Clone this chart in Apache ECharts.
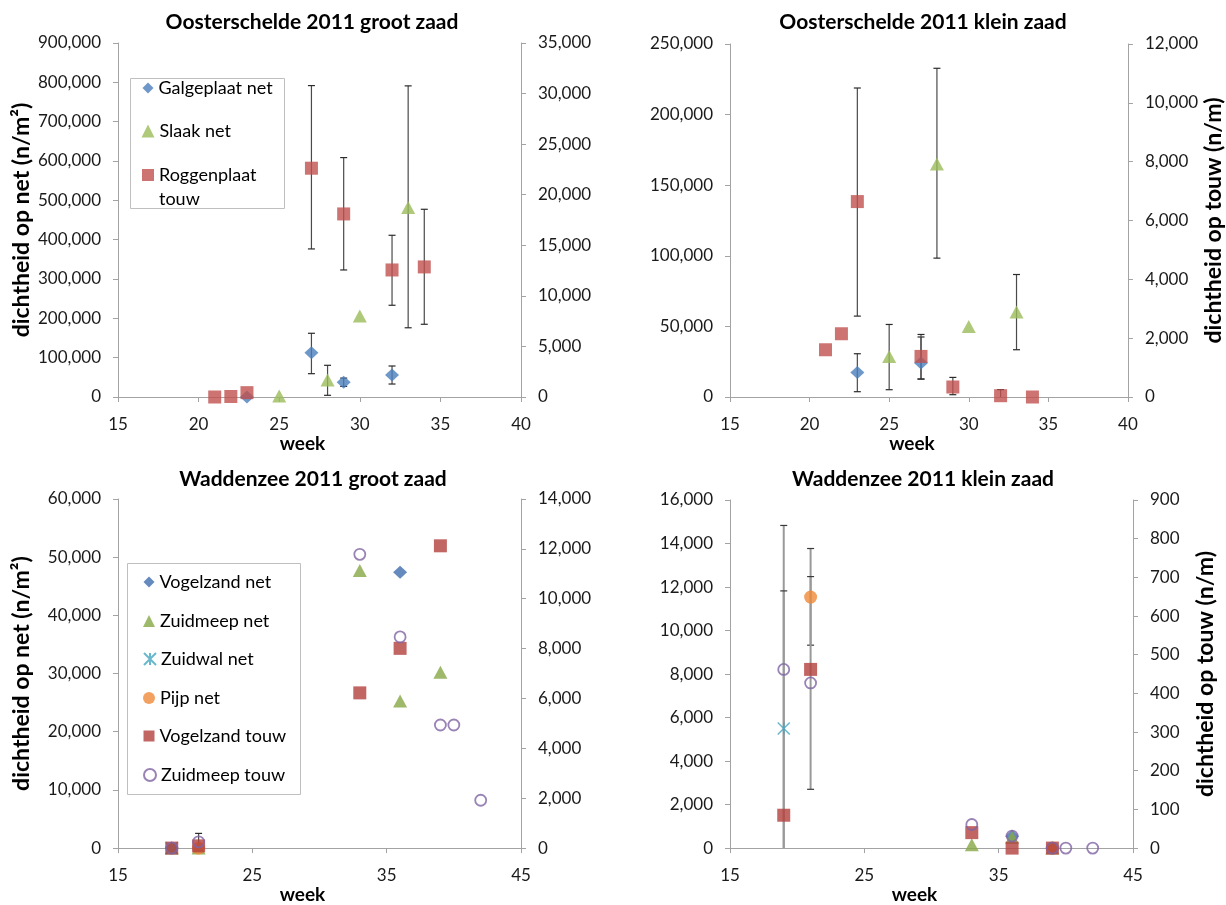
<!DOCTYPE html>
<html>
<head>
<meta charset="utf-8">
<title>Oosterschelde en Waddenzee 2011 – zaaddichtheid</title>
<script src="https://cdn.jsdelivr.net/npm/echarts@6/dist/echarts.min.js"></script>
<style>
  html, body { margin: 0; padding: 0; background: #fff; }
  #chart { width: 1226px; height: 905px; }
</style>
</head>
<body>
<div id="chart"></div>
<script>
// ---------- tick values ----------
const weekTicksOS = [15, 20, 25, 30, 35, 40];
const weekTicksWZ = [15, 25, 35, 45];
const ticksOsGrootNet = [0, 100000, 200000, 300000, 400000, 500000, 600000, 700000, 800000, 900000];
const ticksOsGrootTouw = [0, 5000, 10000, 15000, 20000, 25000, 30000, 35000];
const ticksOsKleinNet = [0, 50000, 100000, 150000, 200000, 250000];
const ticksOsKleinTouw = [0, 2000, 4000, 6000, 8000, 10000, 12000];
const ticksWzGrootNet = [0, 10000, 20000, 30000, 40000, 50000, 60000];
const ticksWzGrootTouw = [0, 2000, 4000, 6000, 8000, 10000, 12000, 14000];
const ticksWzKleinNet = [0, 2000, 4000, 6000, 8000, 10000, 12000, 14000, 16000];
const ticksWzKleinTouw = [0, 100, 200, 300, 400, 500, 600, 700, 800, 900];

// ---------- Oosterschelde 2011 groot zaad: [week, dichtheid] ----------
const osGrootGalgeplaatNet = [[23, 0], [27, 112600], [29, 37300], [32, 55900]];
const osGrootSlaakNet = [[25, 2500], [28, 43200], [30, 206000], [33, 482000]];
const osGrootRoggenplaatTouw = [[21, 0], [22, 50], [23, 430], [27, 22620], [29, 18100], [32, 12560], [34, 12860]];
// error bars: [week, laag, hoog]
const osGrootGalgeplaatNetErr = [[27, 59300, 162000], [29, 27000, 48000], [32, 33000, 78800]];
const osGrootSlaakNetErr = [[28, 4300, 80600], [33, 176000, 791000]];
const osGrootRoggenplaatTouwErr = [[27, 14640, 30790], [29, 12560, 23670], [32, 9070, 15990], [34, 7190, 18560]];

// ---------- Oosterschelde 2011 klein zaad ----------
const osKleinGalgeplaatNet = [[23, 17400], [27, 24000]];
const osKleinSlaakNet = [[25, 28700], [28, 165100], [30, 50000], [33, 60150]];
const osKleinRoggenplaatTouw = [[21, 1606], [22, 2150], [23, 6643], [27, 1380], [29, 340], [32, 44], [34, 0]];
const osKleinGalgeplaatNetErr = [[23, 3750, 30640], [27, 12700, 42500]];
const osKleinSlaakNetErr = [[25, 5170, 51370], [28, 98350, 232800], [33, 33470, 86750]];
const osKleinRoggenplaatTouwErr = [[23, 2750, 10504], [27, 611, 2126], [29, 78, 666], [32, 0, 250]];

// ---------- Waddenzee 2011 groot zaad ----------
const wzGrootVogelzandNet = [[19, 0], [36, 47400]];
const wzGrootZuidmeepNet = [[19, 0], [21, 0], [33, 47700], [36, 25280], [39, 30230]];
const wzGrootZuidwalNet = [[19, 0]];
const wzGrootPijpNet = [[21, 0]];
const wzGrootVogelzandTouw = [[19, 0], [21, 90], [33, 6225], [36, 8010], [39, 12123]];
const wzGrootZuidmeepTouw = [[19, 0], [21, 250], [33, 11780], [36, 8470], [39, 4937], [40, 4937], [42, 1918]];
const wzGrootZuidmeepTouwErr = [[21, 0, 590]];

// ---------- Waddenzee 2011 klein zaad ----------
const wzKleinVogelzandNet = [[36, 540], [39, 0]];
const wzKleinZuidmeepNet = [[33, 150], [36, 483], [39, 0]];
const wzKleinZuidwalNet = [[19, 5500]];
const wzKleinPijpNet = [[21, 11540], [39, 0]];
const wzKleinVogelzandTouw = [[19, 85], [21, 462], [33, 40], [36, 0], [39, 0]];
const wzKleinZuidmeepTouw = [[19, 462], [21, 427], [33, 61], [36, 31], [39, 0], [40, 0], [42, 0]];
const wzKleinZuidwalNetErr = [[19, 0, 14830]];
const wzKleinPijpNetErr = [[21, 9327, 13770]];
const wzKleinVogelzandTouwErr = [[19, 0, 665]];
const wzKleinZuidmeepTouwErr = [[21, 152, 702]];

// ---------- styling ----------
const FONT = 'Lato, "Open Sans", sans-serif';
const AXIS_COLOR = '#A3A3A3';
const TEXT_COLOR = '#1a1a1a';
const fmt = v => Number(v).toLocaleString('en-US');

const MARK = {
  galgeplaatNet: { symbol: 'diamond', symbolSize: [14, 13], itemStyle: { color: '#4A7EBB' } },
  slaakNet: { symbol: 'triangle', symbolSize: [14, 13], itemStyle: { color: '#9BBB59' } },
  roggenplaatTouw: { symbol: 'rect', symbolSize: 13, itemStyle: { color: '#C0504D' } },
  vogelzandNet: { symbol: 'diamond', symbolSize: [14, 13], itemStyle: { color: '#3F6DAE' } },
  zuidmeepNet: { symbol: 'triangle', symbolSize: [14, 13], itemStyle: { color: '#86A844' } },
  zuidwalNet: { symbol: 'path://M0,0L12,12M0,12L12,0M6,0L6,12', symbolSize: 12,
    itemStyle: { color: '#45A6C1', borderColor: '#45A6C1', borderWidth: 1.5 } },
  pijpNet: { symbol: 'circle', symbolSize: 13, itemStyle: { color: '#EF8A3A' } },
  vogelzandTouw: { symbol: 'rect', symbolSize: 13, itemStyle: { color: '#B3403D' } },
  zuidmeepTouw: { symbol: 'circle', symbolSize: 11, itemStyle: { color: 'rgba(0,0,0,0)', borderColor: '#8064A2', borderWidth: 1.8 } }
};

const ERR_DARK = { line: '#4a4a4a', lineWidth: 1.2, cap: '#2b2b2b', capWidth: 1.2 };
const ERR_GREY = { line: '#999999', lineWidth: 2, cap: '#3a3a3a', capWidth: 1.2 };

const grids = [
  { left: 118, top: 43, width: 403, height: 354 },
  { left: 730, top: 44, width: 403, height: 353 },
  { left: 118, top: 499, width: 403, height: 355 },
  { left: 730, top: 500, width: 403, height: 354 }
];

function xAxis(gridIndex, ticks, step) {
  return {
    type: 'value', gridIndex,
    min: ticks[0], max: ticks[ticks.length - 1], interval: step,
    name: 'week', nameLocation: 'middle', nameGap: 31,
    nameTextStyle: { fontFamily: FONT, fontWeight: 'bold', fontSize: 19, color: '#000', padding: [0, 34, 0, 0] },
    axisLine: { show: true, onZero: false, lineStyle: { color: AXIS_COLOR, width: 1 } },
    axisTick: { show: true, inside: false, length: 5, lineStyle: { color: AXIS_COLOR }, customValues: ticks },
    axisLabel: { margin: 19, fontFamily: FONT, fontSize: 17, color: TEXT_COLOR, customValues: ticks },
    splitLine: { show: false }
  };
}

function yAxis(gridIndex, position, ticks, name, nameGap) {
  return {
    type: 'value', gridIndex, position,
    min: ticks[0], max: ticks[ticks.length - 1], interval: ticks[1] - ticks[0],
    name: name || '', nameLocation: 'middle', nameGap: nameGap || 0, nameRotate: 90,
    nameTextStyle: { fontFamily: FONT, fontWeight: 'bold', fontSize: 23, color: '#000' },
    axisLine: { show: true, onZero: false, lineStyle: { color: AXIS_COLOR, width: 1 } },
    axisTick: { show: true, inside: false, length: 5, lineStyle: { color: AXIS_COLOR }, customValues: ticks },
    axisLabel: { margin: 17, fontFamily: FONT, fontSize: 17, color: TEXT_COLOR, formatter: fmt, customValues: ticks },
    splitLine: { show: false }
  };
}

function scatter(name, data, gridIndex, side, mark) {
  return Object.assign({
    type: 'scatter', name, data,
    xAxisIndex: gridIndex, yAxisIndex: gridIndex * 2 + (side === 'right' ? 1 : 0),
    z: 3, silent: true
  }, JSON.parse(JSON.stringify(mark)));
}

function errorBars(data, gridIndex, side, st) {
  return {
    type: 'custom', data, silent: true, z: 2,
    xAxisIndex: gridIndex, yAxisIndex: gridIndex * 2 + (side === 'right' ? 1 : 0),
    encode: { x: 0, y: [1, 2] },
    renderItem(params, api) {
      const w = api.value(0), lo = api.value(1), hi = api.value(2);
      const pHi = api.coord([w, hi]);
      const pLo = api.coord([w, lo]);
      const hw = 3.5;
      const children = [
        { type: 'line', shape: { x1: pHi[0], y1: pHi[1], x2: pLo[0], y2: pLo[1] },
          style: { stroke: st.line, lineWidth: st.lineWidth } },
        { type: 'line', shape: { x1: pHi[0] - hw, y1: pHi[1], x2: pHi[0] + hw, y2: pHi[1] },
          style: { stroke: st.cap, lineWidth: st.capWidth } }
      ];
      if (lo > 0) {
        children.push({ type: 'line', shape: { x1: pLo[0] - hw, y1: pLo[1], x2: pLo[0] + hw, y2: pLo[1] },
          style: { stroke: st.cap, lineWidth: st.capWidth } });
      }
      return { type: 'group', children };
    }
  };
}

// one legend block per entry, centred on its icon; a wrapped label keeps
// its first line level with the icon
function legendEntry(name, cx, cy, iw, ih, lines) {
  const lh = lines ? 24 : 22;
  const label = lines ? '\u00a0\n' + lines.join('\n') : name;
  return {
    data: [name], orient: 'vertical', selectedMode: false, padding: 0,
    left: cx - iw / 2, top: lines ? cy - 1.5 * lh : cy - lh / 2,
    itemWidth: iw, itemHeight: ih,
    formatter: () => label,
    textStyle: { fontFamily: FONT, fontSize: 18, color: '#000', lineHeight: lh }
  };
}

function title(text, cx, top) {
  return { text, left: cx, top, textAlign: 'center', padding: 0,
    textStyle: { fontFamily: FONT, fontWeight: 'bold', fontSize: 21, color: '#000' } };
}

const option = {
  animation: false,
  backgroundColor: '#fff',
  title: [
    title('Oosterschelde 2011 groot zaad', 312, 12),
    title('Oosterschelde 2011 klein zaad', 923, 12),
    title('Waddenzee 2011 groot zaad', 313, 469),
    title('Waddenzee 2011 klein zaad', 923, 469)
  ],
  grid: grids,
  xAxis: [
    xAxis(0, weekTicksOS, 5),
    xAxis(1, weekTicksOS, 5),
    xAxis(2, weekTicksWZ, 5),
    xAxis(3, weekTicksWZ, 5)
  ],
  yAxis: [
    yAxis(0, 'left', ticksOsGrootNet, 'dichtheid op net (n/m²)', 85),
    yAxis(0, 'right', ticksOsGrootTouw),
    yAxis(1, 'left', ticksOsKleinNet),
    yAxis(1, 'right', ticksOsKleinTouw, 'dichtheid op touw (n/m)', 61),
    yAxis(2, 'left', ticksWzGrootNet, 'dichtheid op net (n/m²)', 85),
    yAxis(2, 'right', ticksWzGrootTouw),
    yAxis(3, 'left', ticksWzKleinNet),
    yAxis(3, 'right', ticksWzKleinTouw, 'dichtheid op touw (n/m)', 61)
  ],
  legend: [
    legendEntry('Galgeplaat net', 148, 88, 11, 11),
    legendEntry('Slaak net', 148, 131, 13, 13),
    legendEntry('Roggenplaat touw', 148, 175, 12, 12, ['Roggenplaat', 'touw']),
    legendEntry('Vogelzand net', 149, 582, 11, 11),
    legendEntry('Zuidmeep net', 149, 621, 12, 12),
    legendEntry('Zuidwal net', 149, 659, 12, 12),
    legendEntry('Pijp net', 149, 698, 12, 12),
    legendEntry('Vogelzand touw', 149, 736, 11, 11),
    legendEntry('Zuidmeep touw', 149, 775, 12, 12)
  ],
  graphic: [
    { type: 'rect', shape: { x: 130.5, y: 78.5, width: 154, height: 130 },
      style: { fill: 'none', stroke: '#BFBFBF', lineWidth: 1 }, silent: true },
    { type: 'rect', shape: { x: 127.5, y: 563.5, width: 173, height: 231 },
      style: { fill: 'none', stroke: '#BFBFBF', lineWidth: 1 }, silent: true }
  ],
  series: [
    // Oosterschelde groot zaad
    errorBars(osGrootGalgeplaatNetErr, 0, 'left', ERR_DARK),
    errorBars(osGrootSlaakNetErr, 0, 'left', ERR_DARK),
    errorBars(osGrootRoggenplaatTouwErr, 0, 'right', ERR_DARK),
    scatter('Galgeplaat net', osGrootGalgeplaatNet, 0, 'left', MARK.galgeplaatNet),
    scatter('Slaak net', osGrootSlaakNet, 0, 'left', MARK.slaakNet),
    scatter('Roggenplaat touw', osGrootRoggenplaatTouw, 0, 'right', MARK.roggenplaatTouw),
    // Oosterschelde klein zaad
    errorBars(osKleinGalgeplaatNetErr, 1, 'left', ERR_DARK),
    errorBars(osKleinSlaakNetErr, 1, 'left', ERR_DARK),
    errorBars(osKleinRoggenplaatTouwErr, 1, 'right', ERR_DARK),
    scatter('Galgeplaat net', osKleinGalgeplaatNet, 1, 'left', MARK.galgeplaatNet),
    scatter('Slaak net', osKleinSlaakNet, 1, 'left', MARK.slaakNet),
    scatter('Roggenplaat touw', osKleinRoggenplaatTouw, 1, 'right', MARK.roggenplaatTouw),
    // Waddenzee groot zaad
    errorBars(wzGrootZuidmeepTouwErr, 2, 'right', ERR_DARK),
    scatter('Vogelzand net', wzGrootVogelzandNet, 2, 'left', MARK.vogelzandNet),
    scatter('Zuidmeep net', wzGrootZuidmeepNet, 2, 'left', MARK.zuidmeepNet),
    scatter('Zuidwal net', wzGrootZuidwalNet, 2, 'left', MARK.zuidwalNet),
    scatter('Pijp net', wzGrootPijpNet, 2, 'left', MARK.pijpNet),
    scatter('Vogelzand touw', wzGrootVogelzandTouw, 2, 'right', MARK.vogelzandTouw),
    scatter('Zuidmeep touw', wzGrootZuidmeepTouw, 2, 'right', MARK.zuidmeepTouw),
    // Waddenzee klein zaad
    errorBars(wzKleinZuidwalNetErr, 3, 'left', ERR_GREY),
    errorBars(wzKleinPijpNetErr, 3, 'left', ERR_GREY),
    errorBars(wzKleinVogelzandTouwErr, 3, 'right', ERR_GREY),
    errorBars(wzKleinZuidmeepTouwErr, 3, 'right', ERR_GREY),
    scatter('Vogelzand net', wzKleinVogelzandNet, 3, 'left', MARK.vogelzandNet),
    scatter('Zuidmeep net', wzKleinZuidmeepNet, 3, 'left', MARK.zuidmeepNet),
    scatter('Zuidwal net', wzKleinZuidwalNet, 3, 'left', MARK.zuidwalNet),
    scatter('Pijp net', wzKleinPijpNet, 3, 'left', MARK.pijpNet),
    scatter('Vogelzand touw', wzKleinVogelzandTouw, 3, 'right', MARK.vogelzandTouw),
    scatter('Zuidmeep touw', wzKleinZuidmeepTouw, 3, 'right', MARK.zuidmeepTouw)
  ]
};

const chart = echarts.init(document.getElementById('chart'), null, { renderer: 'canvas' });
chart.setOption(option);
</script>
</body>
</html>
